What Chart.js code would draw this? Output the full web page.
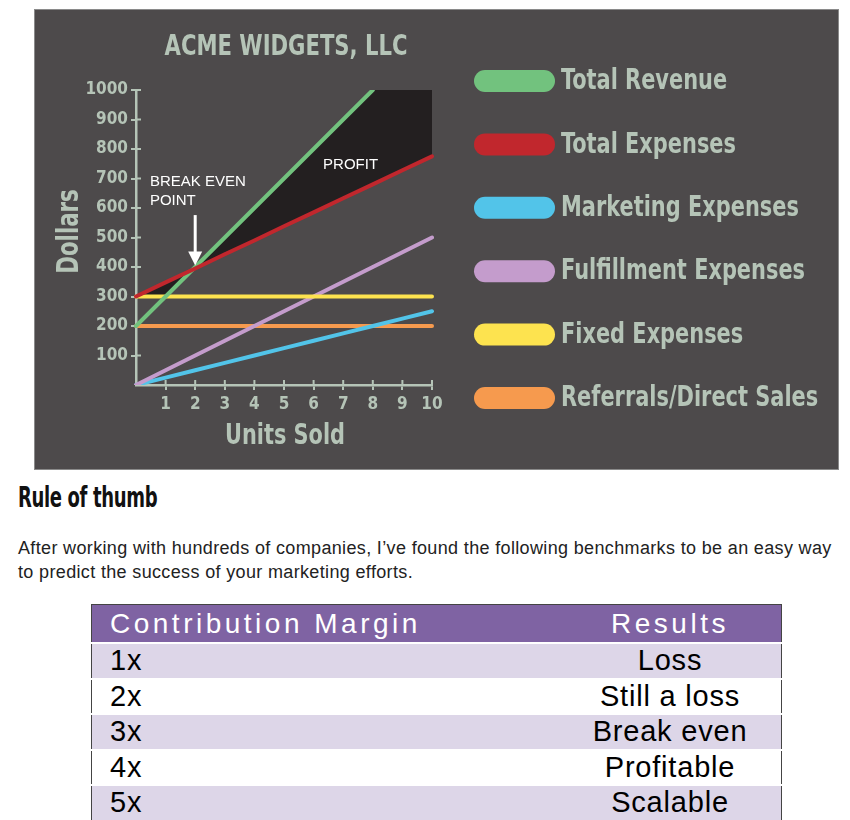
<!DOCTYPE html>
<html>
<head>
<meta charset="utf-8">
<script src="https://cdn.jsdelivr.net/npm/chart.js@4.4.1/dist/chart.umd.min.js"></script>
<style>
  html, body { margin: 0; padding: 0; background: #fff; }
  body { width: 850px; height: 820px; position: relative; overflow: hidden; font-family: "Liberation Sans", Arial, sans-serif; }
  #box { position: absolute; left: 34px; top: 9px; width: 803px; height: 459px; border: 1px solid #8a8a8a; background: #4d4a4b; }
  #wrap { position: relative; width: 803px; height: 459px; }
  #heading { position: absolute; left: 18px; top: 483px; margin: 0; font: bold 29px/28px "DejaVu Sans Condensed", sans-serif; letter-spacing: -0.5px; color: #111; transform: scaleX(0.69); transform-origin: 0 0; white-space: nowrap; }
  #intro { position: absolute; left: 18px; top: 536px; margin: 0; font-size: 18px; line-height: 24px; letter-spacing: 0.35px; color: #222; white-space: nowrap; }
  #rules { position: absolute; left: 91px; top: 604px; width: 691px; border-collapse: collapse; border: 1px solid #444; }
  #rules th { background: #7f63a3; color: #fff; font-weight: normal; font-size: 28px; height: 37px; padding: 0; letter-spacing: 3.5px; }
  #rules td { height: 33.5px; padding: 0; color: #000; font-size: 29px; border-top: 2px solid #fff; letter-spacing: 0.8px; }
  #rules tr.odd td { background: #ddd6e8; }
  #rules .c1 { text-align: left; padding-left: 18px; width: 449px; }
  #rules .c2 { text-align: center; }
</style>
</head>
<body>
<div id="box"><div id="wrap"><canvas id="chart"></canvas></div></div>
<h2 id="heading">Rule of thumb</h2>
<p id="intro">After working with hundreds of companies, I’ve found the following benchmarks to be an easy way<br>to predict the success of your marketing efforts.</p>
<table id="rules"><thead><tr><th class="c1">Contribution Margin</th><th class="c2">Results</th></tr></thead><tbody id="rows"></tbody></table>
<script>
  // values
  const units = ["0", "1", "2", "3", "4", "5", "6", "7", "8", "9", "10"];
  const xTickLabels = ["", "1", "2", "3", "4", "5", "6", "7", "8", "9", "10"];
  const yTicks = [100, 200, 300, 400, 500, 600, 700, 800, 900, 1000];

  const totalRevenue = [200, 300, 400, 500, 600, 700, 800, 900, 1000, null, null];
  const totalExpenses = [300, 348, 395, 443, 490, 538, 585, 633, 680, 728, 775];
  const marketingExpenses = [0, 25, 50, 75, 100, 125, 150, 175, 200, 225, 250];
  const fulfillmentExpenses = [0, 50, 100, 150, 200, 250, 300, 350, 400, 450, 500];
  const fixedExpenses = [300, 300, 300, 300, 300, 300, 300, 300, 300, 300, 300];
  const referralsDirectSales = [200, 200, 200, 200, 200, 200, 200, 200, 200, 200, 200];

  // black "profit" region (revenue capped at the top of the axis) and the small wedge near 0
  const profitTop = [null, null, 400, 500, 600, 700, 800, 900, 1000, 1000, 1000];
  const lossBottom = [300, 300, 400, null, null, null, null, null, null, null, null];

  const seriesNames = ["Total Revenue", "Total Expenses", "Marketing Expenses", "Fulfillment Expenses", "Fixed Expenses", "Referrals/Direct Sales"];
  const seriesColors = ["#72c27e", "#c1272d", "#52c4e9", "#c49ccc", "#fde34f", "#f69a4e"];

  const margins = ["1x", "2x", "3x", "4x", "5x"];
  const results = ["Loss", "Still a loss", "Break even", "Profitable", "Scalable"];

  const chartTitle = "ACME WIDGETS, LLC";
  const xTitle = "Units Sold";
  const yTitle = "Dollars";
  const notes = [
    { text: "BREAK EVEN", x: 0.47, y: 690 },
    { text: "POINT", x: 0.47, y: 623 },
    { text: "PROFIT", x: 6.32, y: 745 }
  ];
  const arrow = { x: 2, yFrom: 576, yTo: 405 };

  const sage = "#b5c4b7";
  const cond = '"DejaVu Sans Condensed", "DejaVu Sans", sans-serif';

  // table rows
  const tbody = document.getElementById("rows");
  margins.forEach((m, i) => {
    const tr = document.createElement("tr");
    if (i % 2 === 0) tr.className = "odd";
    tr.innerHTML = '<td class="c1"></td><td class="c2"></td>';
    tr.children[0].textContent = m;
    tr.children[1].textContent = results[i];
    tbody.appendChild(tr);
  });

  const line = (label, data, color, order) => ({
    label: label, data: data, borderColor: color, borderWidth: 4,
    pointRadius: 0, fill: false, order: order, borderCapStyle: "round"
  });

  // text squeezed horizontally, the source art uses a condensed face
  function squeeze(ctx, text, x, y, sx, rotate) {
    ctx.save();
    ctx.translate(x, y);
    if (rotate) ctx.rotate(-Math.PI / 2);
    ctx.scale(sx, 1);
    ctx.fillText(text, 0, 0);
    ctx.restore();
  }

  const innerTicks = {
    id: "innerTicks",
    beforeDatasetsDraw(chart) {
      const { ctx, chartArea, scales } = chart;
      ctx.save();
      ctx.strokeStyle = sage;
      ctx.lineWidth = 2;
      yTicks.forEach(v => {
        const y = scales.y.getPixelForValue(v);
        ctx.beginPath(); ctx.moveTo(chartArea.left, y); ctx.lineTo(chartArea.left + 5, y); ctx.stroke();
      });
      for (let i = 1; i < units.length; i++) {
        const x = scales.x.getPixelForValue(i);
        ctx.beginPath(); ctx.moveTo(x, chartArea.bottom); ctx.lineTo(x, chartArea.bottom - 5); ctx.stroke();
      }
      ctx.restore();
    }
  };

  const extras = {
    id: "extras",
    afterDraw(chart) {
      const { ctx, scales, chartArea } = chart;
      const midX = (chartArea.left + chartArea.right) / 2;
      const midY = (chartArea.top + chartArea.bottom) / 2;
      ctx.save();
      ctx.textBaseline = "middle";

      // titles
      ctx.fillStyle = sage;
      ctx.textAlign = "center";
      ctx.font = "bold 28px " + cond;
      squeeze(ctx, chartTitle, midX + 2, 38, 0.84);
      ctx.font = "bold 29px " + cond;
      squeeze(ctx, xTitle, midX + 1, chartArea.bottom + 51, 0.8);
      ctx.font = "bold 30px " + cond;
      squeeze(ctx, yTitle, 35, midY - 6, 0.79, true);

      // notes
      ctx.fillStyle = "#fff";
      ctx.font = '15px "Liberation Sans", Arial, sans-serif';
      ctx.textAlign = "left";
      notes.forEach(n => ctx.fillText(n.text, scales.x.getPixelForValue(n.x), scales.y.getPixelForValue(n.y)));

      // arrow
      const ax = scales.x.getPixelForValue(arrow.x);
      const y1 = scales.y.getPixelForValue(arrow.yFrom);
      const y2 = scales.y.getPixelForValue(arrow.yTo);
      ctx.strokeStyle = "#fff";
      ctx.lineWidth = 3;
      ctx.beginPath(); ctx.moveTo(ax, y1); ctx.lineTo(ax, y2 - 12); ctx.stroke();
      ctx.beginPath(); ctx.moveTo(ax - 7, y2 - 14); ctx.lineTo(ax + 7, y2 - 14); ctx.lineTo(ax, y2); ctx.closePath(); ctx.fill();

      // legend
      ctx.font = "bold 28px " + cond;
      seriesNames.forEach((name, i) => {
        const cy = 71 + i * 63.4;
        ctx.fillStyle = seriesColors[i];
        ctx.beginPath(); ctx.roundRect(439, cy - 11, 81, 22, 11); ctx.fill();
        ctx.fillStyle = sage;
        squeeze(ctx, name, 526, cy + 1, 0.83);
      });
      ctx.restore();
    }
  };

  new Chart(document.getElementById("chart"), {
    type: "line",
    data: {
      labels: units,
      datasets: [
        { label: "profit", data: profitTop, backgroundColor: "#231f20", borderWidth: 0, pointRadius: 0, fill: 3, order: 20 },
        { label: "loss", data: lossBottom, backgroundColor: "#231f20", borderWidth: 0, pointRadius: 0, fill: 3, order: 19 },
        line(seriesNames[0], totalRevenue, seriesColors[0], 4),
        line(seriesNames[1], totalExpenses, seriesColors[1], 3),
        line(seriesNames[2], marketingExpenses, seriesColors[2], 7),
        line(seriesNames[3], fulfillmentExpenses, seriesColors[3], 6),
        line(seriesNames[4], fixedExpenses, seriesColors[4], 5),
        line(seriesNames[5], referralsDirectSales, seriesColors[5], 8)
      ]
    },
    options: {
      responsive: true,
      maintainAspectRatio: false,
      animation: false,
      layout: { padding: { left: 0, top: 80, right: 406, bottom: 0 } },
      plugins: {
        legend: { display: false },
        tooltip: { enabled: false },
        title: { display: false }
      },
      scales: {
        x: {
          type: "category",
          offset: false,
          afterFit: s => { s.height = 84; },
          afterBuildTicks: s => { s.ticks = s.ticks.filter(t => t.value !== 0); },
          border: { display: true, color: sage, width: 2.5 },
          grid: { drawOnChartArea: false, drawTicks: true, tickLength: 5, color: sage, lineWidth: 2 },
          ticks: {
            color: sage, padding: 4, maxRotation: 0, autoSkip: false,
            font: { family: cond, size: 17, weight: "bold" },
            callback: v => xTickLabels[v]
          }
        },
        y: {
          min: 0, max: 1000,
          afterFit: s => { s.width = 101; },
          afterBuildTicks: s => { s.ticks = yTicks.map(v => ({ value: v })); },
          border: { display: true, color: sage, width: 2.5 },
          grid: { drawOnChartArea: false, drawTicks: true, tickLength: 5, color: sage, lineWidth: 2 },
          ticks: {
            color: sage, padding: 3,
            font: { family: cond, size: 17, weight: "bold" },
            callback: v => String(v)
          }
        }
      }
    },
    plugins: [innerTicks, extras]
  });
</script>
</body>
</html>
